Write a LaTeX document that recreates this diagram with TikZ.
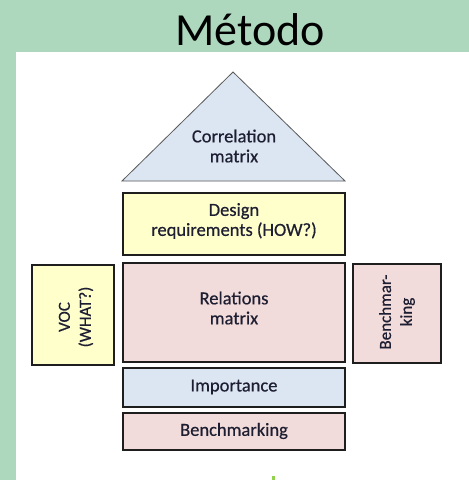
\documentclass[tikz,border=0pt]{standalone}
\usepackage{fontspec}
\setmainfont{Carlito}
\newfontfamily\boxfont[FakeBold=0.5]{Carlito}
\definecolor{bggreen}{RGB}{174,216,190}
\definecolor{pblue}{RGB}{220,230,242}
\definecolor{pyellow}{RGB}{255,255,204}
\definecolor{ppink}{RGB}{242,220,219}
\definecolor{txtcol}{RGB}{30,30,50}
\definecolor{tickgreen}{RGB}{146,208,80}
\definecolor{edgecol}{RGB}{30,30,30}
\begin{document}
\begin{tikzpicture}[x=1pt,y=-1pt,
  box/.style={draw=edgecol, line width=1.4pt},
  lbl/.style={text=txtcol, font=\boxfont\fontsize{18.5}{20}\selectfont, align=center, inner sep=0pt},
  rlbl/.style={text=txtcol, font=\boxfont\fontsize{17}{21}\selectfont, align=center, inner sep=0pt, rotate=90}]
\useasboundingbox (0,0) rectangle (469,480);
\fill[bggreen] (0,0) rectangle (469,480);
\fill[white] (16,52) rectangle (469,480);
\node[font=\fontsize{46}{50}\selectfont, anchor=base, inner sep=0pt] (title) at (250,45) {Método};
% roof
\draw[fill=pblue, draw=black!65, line width=0.8pt] (233,72) -- (345,181) -- (122,181) -- cycle;
\node[lbl] (corr) at (234,146) {Correlation\\matrix};
% design requirements
\draw[box, fill=pyellow] (123,193) rectangle (345,255);
\node[lbl] (design) at (234,221) {Design\\requirements (HOW?)};
% relations matrix
\draw[box, fill=ppink] (123,263) rectangle (345,362);
\node[lbl] (rel) at (234,308) {Relations\\matrix};
% VOC
\draw[box, fill=pyellow] (32,265) rectangle (114,365);
\node[rlbl] (voc) at (76,317) {VOC\\(WHAT?)};
% side benchmarking
\draw[box, fill=ppink] (353,264) rectangle (441,363);
\node[rlbl] (bside) at (397,312) {Benchmar-\\king};
% importance
\draw[box, fill=pblue] (123,368) rectangle (345,407);
\node[lbl] (imp) at (234,387) {Importance};
% benchmarking
\draw[box, fill=ppink] (123,413) rectangle (345,450);
\node[lbl] (bench) at (234,431) {Benchmarking};
% small green mark
\fill[tickgreen] (272,476) rectangle (275,480);
\end{tikzpicture}
\end{document}
